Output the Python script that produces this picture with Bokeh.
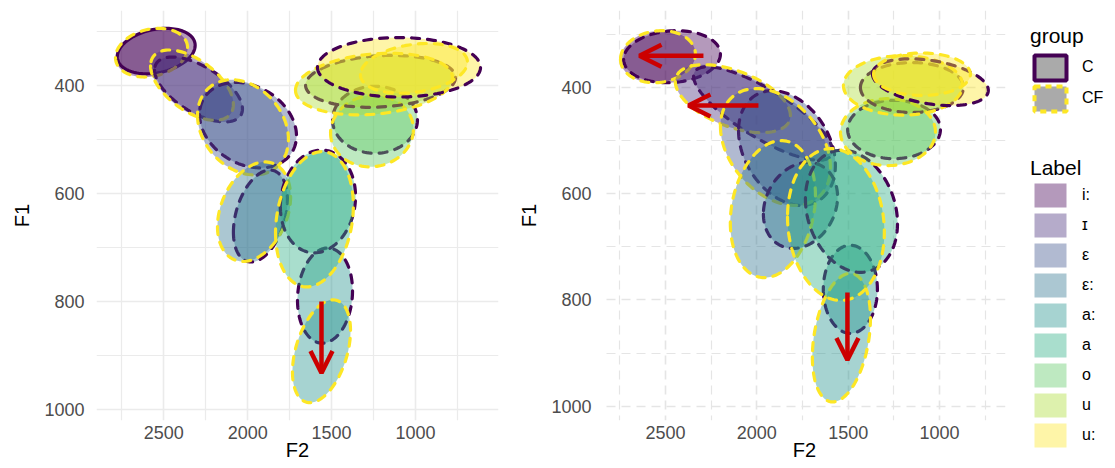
import numpy as np
from bokeh.plotting import figure
from bokeh.models import (Range1d, FixedTicker, Legend, LegendItem, Arrow, OpenHead,
                          ColumnDataSource)
from bokeh.layouts import row
from bokeh.embed import file_html
from bokeh.resources import INLINE

# ---------------- data ----------------
labels = ["i:", "ɪ", "ε", "ε:", "a:", "a", "o", "u", "u:"]
label_colors = ["#440154", "#472D7B", "#3B528B", "#2C728E", "#21908C",
                "#27AD81", "#5DC863", "#AADC32", "#FDE725"]
groups = ["C", "CF"]
group_colors = ["#440154", "#FDE725"]

# ellipse summaries per label: centre F2, centre F1, half-extent F2, half-extent F1, correlation
# left panel
L_C_f2 = [2545, 2293, 1998, 1924, 1539, 1581, 1241, 1208, 1098]
L_C_f1 = [337, 408, 474, 642, 789, 615, 464, 393, 367]
L_C_r2 = [232, 262, 289, 161, 164, 224, 253, 447, 486]
L_C_r1 = [42, 60, 79, 85, 88, 95, 62, 48, 55]
L_C_cor = [0.25, -0.6, -0.25, 0.35, 0.1, 0.1, 0.0, 0.15, 0.0]
L_C_dash = ["solid", "dashed", "dashed", "dashed", "dashed", "dashed", "dashed", "dashed", "dashed"]

L_CF_f2 = [2573, 2332, 2028, 1962, 1560, 1602, 1259, 1247, 1009]
L_CF_f1 = [340, 400, 478, 634, 892, 648, 485, 398, 369]
L_CF_r2 = [215, 247, 271, 218, 173, 232, 247, 468, 319]
L_CF_r1 = [45, 65, 88, 92, 95, 125, 66, 57, 46]
L_CF_cor = [0.2, -0.55, -0.25, 0.3, 0.4, 0.2, 0.05, 0.2, 0.25]

# right panel
R_C_f2 = [2464, 1966, 1835, 1761, 1488, 1482, 1249, 1151, 1050]
R_C_f1 = [342, 449, 514, 622, 780, 633, 479, 400, 390]
R_C_r2 = [265, 380, 265, 203, 148, 252, 254, 282, 317]
R_C_r1 = [49, 88, 108, 81, 83, 115, 55, 47, 44]
R_C_cor = [0.1, -0.8, -0.3, 0.2, 0.0, -0.2, 0.0, 0.0, -0.35]

R_CF_f2 = [2541, 2131, 1898, 1912, 1537, 1567, 1282, 1200, 1096]
R_CF_f1 = [342, 421, 512, 629, 871, 658, 484, 396, 375]
R_CF_r2 = [205, 315, 301, 233, 159, 265, 260, 326, 265]
R_CF_r1 = [49, 64, 110, 129, 121, 143, 63, 56, 40]
R_CF_cor = [0.1, -0.5, -0.35, 0.2, 0.3, -0.1, 0.0, 0.0, 0.0]

# arrows (F2, F1)
L_arrow_f2_start = [1560]
L_arrow_f1_start = [800]
L_arrow_f2_end = [1560]
L_arrow_f1_end = [932]

R_arrow_f2_start = [2292, 1991, 1504]
R_arrow_f1_start = [340, 434, 786]
R_arrow_f2_end = [2642, 2374, 1504]
R_arrow_f1_end = [340, 434, 913]

x_major = [2500, 2000, 1500, 1000]
x_minor = [2750, 2250, 1750, 1250, 750]
y_major = [400, 600, 800, 1000]
y_minor = [300, 500, 700, 900]

FONT = "Liberation Sans"
DASH = "8 8"
H = 467
TOP = 10
BOTTOM = 47


def ellipse(cx, cy, rx, ry, r, n=120):
    t = np.linspace(0, 2 * np.pi, n)
    x = cx + rx * np.cos(t)
    y = cy + ry * (r * np.cos(t) + np.sqrt(1 - r * r) * np.sin(t))
    return x, y


def make_panel(xr, yr, min_left, min_right, width, dashed_grid):
    p = figure(width=width, height=H, x_range=Range1d(*xr), y_range=Range1d(*yr),
               output_backend="svg", toolbar_location=None,
               min_border_left=min_left, min_border_right=min_right,
               min_border_top=TOP, min_border_bottom=BOTTOM)
    p.outline_line_color = None
    p.background_fill_color = "white"
    p.border_fill_color = "white"
    p.xaxis.ticker = FixedTicker(ticks=x_major, minor_ticks=x_minor)
    p.yaxis.ticker = FixedTicker(ticks=y_major, minor_ticks=y_minor)
    p.xaxis.axis_label = "F2"
    p.yaxis.axis_label = "F1"
    for ax in (p.xaxis[0], p.yaxis[0]):
        ax.axis_line_color = None
        ax.major_tick_line_color = None
        ax.minor_tick_line_color = None
        ax.major_tick_out = 0
        ax.major_tick_in = 0
        ax.minor_tick_out = 0
        ax.minor_tick_in = 0
        ax.major_label_text_font = FONT
        ax.major_label_text_font_size = "18px"
        ax.major_label_text_color = "#4d4d4d"
        ax.axis_label_text_font = FONT
        ax.axis_label_text_font_size = "20px"
        ax.axis_label_text_font_style = "normal"
        ax.axis_label_text_color = "black"
    p.xaxis.major_label_standoff = 5
    p.yaxis.major_label_standoff = 12
    p.xaxis.axis_label_standoff = -3
    p.yaxis.axis_label_standoff = 8
    for g in (p.xgrid[0], p.ygrid[0]):
        g.grid_line_color = "#ebebeb"
        g.grid_line_width = 1.6
        g.minor_grid_line_color = "#ebebeb"
        g.minor_grid_line_width = 1.2
        if dashed_grid:
            g.grid_line_dash = "9 6"
            g.minor_grid_line_dash = "9 6"
            g.grid_line_color = "#e5e5e5"
            g.minor_grid_line_color = "#e5e5e5"
    return p


def draw_ellipses(p, C, CF, c_dash):
    for i in range(len(labels)):
        for gi, (pars, gcol) in enumerate(zip((C, CF), group_colors)):
            f2, f1, r2, r1, cor = (arr[i] for arr in pars)
            x, y = ellipse(f2, f1, r2, r1, cor)
            dash = DASH if (gi == 1 or c_dash[i] == "dashed") else "solid"
            p.patch(x, y, fill_color=label_colors[i], fill_alpha=0.4,
                    line_color=gcol, line_width=3.2, line_dash=dash, line_cap="round",
                    line_join="round")


def draw_arrows(p, xs, ys, xe, ye):
    src = ColumnDataSource(dict(x0=xs, y0=ys, x1=xe, y1=ye))
    p.add_layout(Arrow(end=OpenHead(size=22, line_color="#CC0000", line_width=4.5),
                       x_start="x0", y_start="y0", x_end="x1", y_end="y1",
                       source=src, line_color="#CC0000", line_width=4.5))


p1 = make_panel((2901, 505), (1020, 262), 96, 10, 508, False)
draw_ellipses(p1, (L_C_f2, L_C_f1, L_C_r2, L_C_r1, L_C_cor),
              (L_CF_f2, L_CF_f1, L_CF_r2, L_CF_r1, L_CF_cor), L_C_dash)
draw_arrows(p1, L_arrow_f2_start, L_arrow_f1_start, L_arrow_f2_end, L_arrow_f1_end)

p2 = make_panel((2839, 639), (1027, 255), 95, 5, 502, True)
draw_ellipses(p2, (R_C_f2, R_C_f1, R_C_r2, R_C_r1, R_C_cor),
              (R_CF_f2, R_CF_f1, R_CF_r2, R_CF_r1, R_CF_cor), ["dashed"] * 9)
draw_arrows(p2, R_arrow_f2_start, R_arrow_f1_start, R_arrow_f2_end, R_arrow_f1_end)

# legend panel (legend keys need a renderer; these sit outside the visible range)
p3 = figure(width=100, height=H, x_range=Range1d(0, 1), y_range=Range1d(0, 1),
            output_backend="svg", toolbar_location=None, x_axis_type=None, y_axis_type=None,
            min_border_left=0, min_border_right=0, min_border_top=0, min_border_bottom=0)
p3.frame_align = False
p3.outline_line_color = None

dummy_x = [[5, 6, 6]]
dummy_y = [[5, 5, 6]]
grp_renderers = []
for gi, g in enumerate(groups):
    r = p3.patches(xs=dummy_x, ys=dummy_y, fill_color="#aaaaaa", fill_alpha=1.0,
                   line_color=group_colors[gi], line_width=4,
                   line_dash="solid" if g == "C" else "6 5")
    grp_renderers.append(r)
lab_renderers = []
for i, lab in enumerate(labels):
    r = p3.patches(xs=dummy_x, ys=dummy_y, fill_color=label_colors[i], fill_alpha=0.4,
                   line_color=None)
    lab_renderers.append(r)


def style_legend(leg, gh, ts):
    leg.title_text_font = FONT
    leg.title_text_font_size = "21px"
    leg.title_text_font_style = "normal"
    leg.title_text_color = "black"
    leg.label_text_font = FONT
    leg.label_text_font_size = "16px"
    leg.label_text_color = "black"
    leg.glyph_width = 40
    leg.glyph_height = gh
    leg.label_height = gh
    leg.spacing = 0
    leg.label_standoff = 12
    leg.padding = 0
    leg.margin = 0
    leg.title_standoff = ts
    leg.border_line_color = None
    leg.background_fill_alpha = 0


leg1 = Legend(items=[LegendItem(label=g, renderers=[r]) for g, r in zip(groups, grp_renderers)],
              title="group", location=(20, 353.5))
style_legend(leg1, 31, 4)
leg2 = Legend(items=[LegendItem(label=l, renderers=[r]) for l, r in zip(labels, lab_renderers)],
              title="Label", location=(20, 17))
style_legend(leg2, 30, 0)
p3.add_layout(leg1, "center")
p3.add_layout(leg2, "center")

layout = row(p1, p2, p3)
open("out.html", "w").write(file_html(layout, INLINE))
